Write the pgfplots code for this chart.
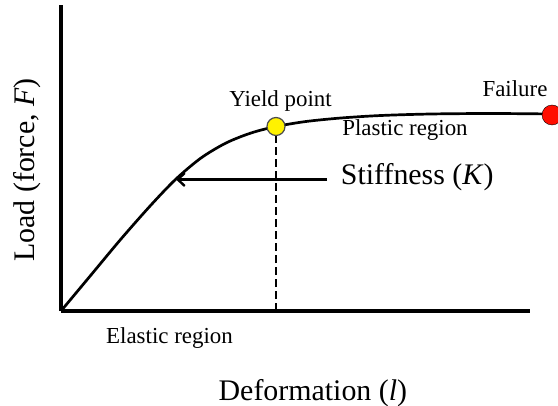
\documentclass[border=0pt]{standalone}
\usepackage{fontspec}
\setmainfont{Liberation Serif}
\usepackage{pgfplots}
\pgfplotsset{compat=1.18}
\usetikzlibrary{arrows.meta}
\newcommand{\bigtxt}{\fontsize{30}{36}\selectfont}
\newcommand{\smalltxt}{\fontsize{23}{28}\selectfont}
\begin{document}
\begin{tikzpicture}
\useasboundingbox (-61bp,-95bp) rectangle (497bp,311bp);
\begin{axis}[
  at={(0,0)}, anchor=south west,
  scale only axis, width=469bp, height=306bp,
  xmin=0, xmax=469, ymin=0, ymax=306,
  axis lines=left,
  axis line style={line width=3.2bp, -},
  ticks=none,
  clip=false,
  xlabel={Deformation (\textit{l})},
  ylabel={Load (force, \textit{F})},
  xlabel style={at={(axis description cs:0.537,-0.291)}, anchor=base, font=\bigtxt},
  ylabel style={at={(axis description cs:-0.072,0.461)}, anchor=center, rotate=0, font=\bigtxt},
]
% curve
\addplot[smooth, line width=2.7bp, black] coordinates {
 (0,0) (30,36) (60,72) (90,106) (115,132) (140,153) (165,168) (190,178)
 (215,184.5) (245,189.5) (280,193) (320,195.5) (370,197) (430,197.5) (491,197)};
% dashed drop line
\addplot[line width=2.8bp, black, dash pattern=on 8bp off 4bp] coordinates {(215,0) (215,184.5)};
% stiffness arrow
\addplot[line width=2.4bp, black, -{Straight Barb[length=7bp,width=13bp,line width=2.4bp]}] coordinates {(266,131.5) (115,131.5)};
% yield point
\addplot[only marks, mark=*, mark size=9bp, mark options={fill=yellow, draw=black!70, line width=1.2bp}] coordinates {(215,184.5)};
% failure
\addplot[only marks, mark=*, mark size=10bp, mark options={fill=red!90!orange, draw=none}] coordinates {(491,196)};
% annotations
\node[font=\smalltxt, anchor=base] at (axis cs:219.5,204.3) {Yield point};
\node[font=\smalltxt, anchor=base] at (axis cs:454,214.3) {Failure};
\node[font=\smalltxt, anchor=base] at (axis cs:344,175) {Plastic region};
\node[font=\bigtxt, anchor=base west, inner sep=0pt] at (axis cs:279.7,126) {Stiffness (\textit{K})};
\node[font=\smalltxt, anchor=base] at (axis cs:108.5,-32) {Elastic region};
\end{axis}
\end{tikzpicture}
\end{document}
